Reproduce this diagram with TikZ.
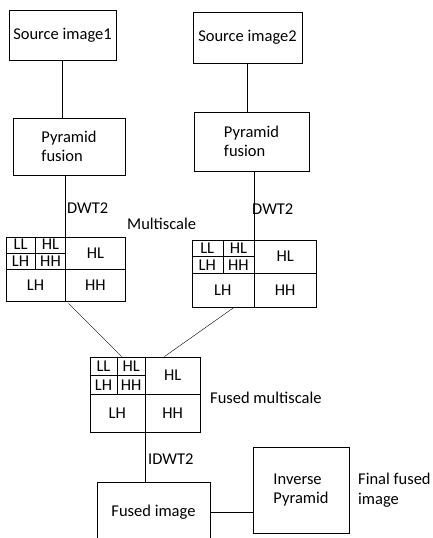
\documentclass[tikz,border=0pt]{standalone}
\usepackage{fontspec}
\setmainfont{Carlito}
\usepackage{tikz}
\usetikzlibrary{positioning,calc}

\newcommand{\subbands}[1]{%
  \draw (#1.north) -- (#1.south);
  \draw (#1.west) -- (#1.east);
  \draw ($(#1.north west)!0.5!(#1.north)$) -- ($(#1.west)!0.5!(#1.center)$);
  \draw ($(#1.north west)!0.5!(#1.west)$) -- ($(#1.north)!0.5!(#1.center)$);
  \node[lbl] at ($(#1.north west)!0.5!(#1.center)!0.5!(#1.north west)$) {LL};
  \node[lbl] at ($(#1.north)!0.5!(#1.west)!0.5!(#1.north)$) {HL};
  \node[lbl] at ($(#1.west)!0.5!(#1.north)!0.5!(#1.west)$) {LH};
  \node[lbl] at ($(#1.north west)!0.5!(#1.center)!0.5!(#1.center)$) {HH};
  \node[lbl] at ($(#1.north)!0.5!(#1.east)$) {HL};
  \node[lbl] at ($(#1.west)!0.5!(#1.south)$) {LH};
  \node[lbl] at ($(#1.south)!0.5!(#1.east)$) {HH};
}

\begin{document}
\begin{tikzpicture}[x=1pt, y=-1pt, font=\fontsize{16.5}{19.5}\selectfont,
  box/.style={draw, thick, inner sep=0pt},
  grid/.style={draw, thick, inner sep=0pt},
  lbl/.style={inner sep=0pt},
  tag/.style={anchor=west, inner sep=0pt, align=left}]
\clip (0,0) rectangle (433,538);
\node[box, minimum width=107pt, minimum height=50pt] (src1) at (62.5,35) {Source image1};
\node[box, minimum width=109pt, minimum height=51pt] (src2) at (247.5,37.5) {Source image2};
\node[box, align=left, minimum width=112pt, minimum height=57pt] (pyr1) at (69,146.5) {Pyramid\\fusion};
\node[box, align=left, minimum width=115pt, minimum height=59pt] (pyr2) at (251.5,141.5) {Pyramid\\fusion};
\node[grid, minimum width=119pt, minimum height=64pt] (ms1) at (65.5,269) {};
\node[grid, minimum width=124pt, minimum height=67pt] (ms2) at (254,273.5) {};
\node[grid, minimum width=110pt, minimum height=75pt] (fms) at (145,394.5) {};
\subbands{ms1}
\subbands{ms2}
\subbands{fms}
\node[box, minimum width=113pt, minimum height=60pt] (fimg) at (153.5,512) {Fused image};
\node[box, align=left, minimum width=96pt, minimum height=86pt] (inv) at (301,490) {Inverse\\Pyramid};
\node[tag] (dwt1) at (67,208) {DWT2};
\node[tag] (msc) at (127,224) {Multiscale};
\node[tag] (dwt2) at (252,209) {DWT2};
\node[tag] (fmsc) at (210,398) {Fused multiscale};
\node[tag] (idwt) at (148,459) {IDWT2};
\node[tag] (final) at (358,490) {Final fused\\image};
\draw (src1.south) -- (src1.south |- pyr1.north);
\draw (src2.south) -- (src2.south |- pyr2.north);
\draw (pyr1.south -| ms1.north) -- (ms1.north);
\draw (pyr2.south -| ms2.north) -- (ms2.north);
\draw ($(ms1.south)+(3,2)$) -- ($(fms.north west)!0.58!(fms.north)$);
\draw ($(ms2.south west)!0.68!(ms2.south)$) -- ($(fms.north)!0.35!(fms.north east)$);
\draw (fms.south) -- (fms.south |- fimg.north);
\draw (fimg.east) -- (fimg.east -| inv.west);
\end{tikzpicture}
\end{document}
